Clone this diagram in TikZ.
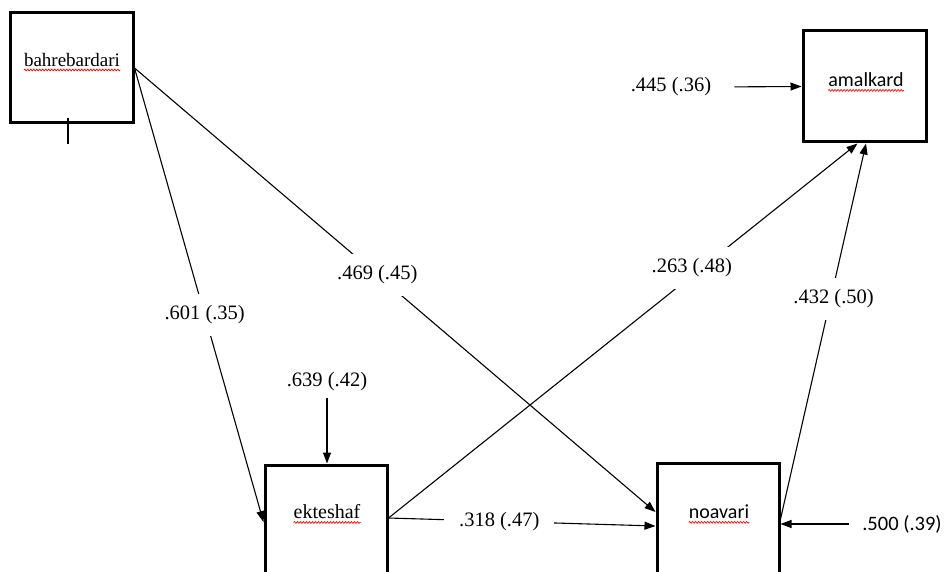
\documentclass[tikz,border=0pt]{standalone}
\usepackage{fontspec}
\setmainfont{Liberation Serif}
\newfontfamily\calfont{Carlito}
\usetikzlibrary{arrows.meta,decorations.pathmorphing}
\begin{document}
\begin{tikzpicture}[x=1pt,y=-1pt,
  box/.style={draw, line width=3pt, inner sep=0pt},
  boxtext/.style={inner sep=0pt, font=\fontsize{20}{24}\selectfont},
  conn/.style={line width=1.1pt, -{Triangle[length=11pt,width=8pt]}},
  lbl/.style={font=\fontsize{20.5}{24}\selectfont, fill=white, inner xsep=15pt, inner ysep=12pt},
  errlbl/.style={font=\fontsize{20.5}{24}\selectfont, inner sep=1pt},
  wavy/.style={red, line width=0.7pt, decorate, decoration={snake, amplitude=0.9pt, segment length=3pt}}]
\useasboundingbox (0,0) rectangle (944,572);
\clip (0,0) rectangle (944,572);
% boxes
\node[box, minimum width=123pt, minimum height=110pt] (bah) at (71.5,68) {};
\node[box, minimum width=123pt, minimum height=111pt] (am) at (864.5,86.5) {};
\node[box, minimum width=122pt, minimum height=120pt] (ek) at (326,525) {};
\node[box, minimum width=122pt, minimum height=122pt] (nv) at (718,524) {};
% box texts
\node[boxtext, font=\fontsize{19}{23}\selectfont] (tbah) at (72,60) {bahrebardari};
\node[boxtext, font=\fontsize{20}{24}\calfont] (tam) at (866,80) {amalkard};
\node[boxtext] (tek) at (327,512) {ekteshaf};
\node[boxtext, font=\fontsize{20}{24}\calfont] (tnv) at (719,512) {noavari};
\foreach \t in {tbah,tam,tek,tnv}
  \draw[wavy] ([yshift=-3.5pt]\t.base west) -- ([yshift=-3.5pt]\t.base east);
% small tick under bahrebardari
\coordinate (tick) at (68,144);
\draw[line width=1.1pt] (bah.south -| tick) ++(0,-6) -- (tick);
% paths
\draw[conn] (bah.east) -- node[lbl, pos=0.544] {.601 (.35)} ([yshift=3pt]ek.west);
\draw[conn] (bah.east) -- node[lbl, pos=0.466] {.469 (.45)} ([yshift=12pt]nv.west);
\draw[conn] ([yshift=7pt]ek.east) -- node[lbl, pos=0.415] {.318 (.47)} ([yshift=-2pt]nv.west);
\draw[conn] ([yshift=7pt]ek.east) -- node[lbl, pos=0.668, xshift=-10pt] {.263 (.48)} ([xshift=-7pt]am.south);
\draw[conn] ([yshift=5pt]nv.east) -- node[lbl, pos=0.586, xshift=3pt] {.432 (.50)} ([xshift=1.5pt]am.south);
% error terms
\node[errlbl] (e1) at (671,87) {.445 (.36)};
\draw[conn, shorten <=22pt] (e1.east) -- (am.west);
\node[errlbl] (e2) at (327,382) {.639 (.42)};
\draw[conn, shorten <=6pt] (e2.south) -- (e2.south |- ek.north);
\node[errlbl, font=\fontsize{20.5}{24}\calfont] (e3) at (902,524) {.500 (.39)};
\draw[conn, shorten <=12pt] (e3.west) -- (nv.east);
\end{tikzpicture}
\end{document}
